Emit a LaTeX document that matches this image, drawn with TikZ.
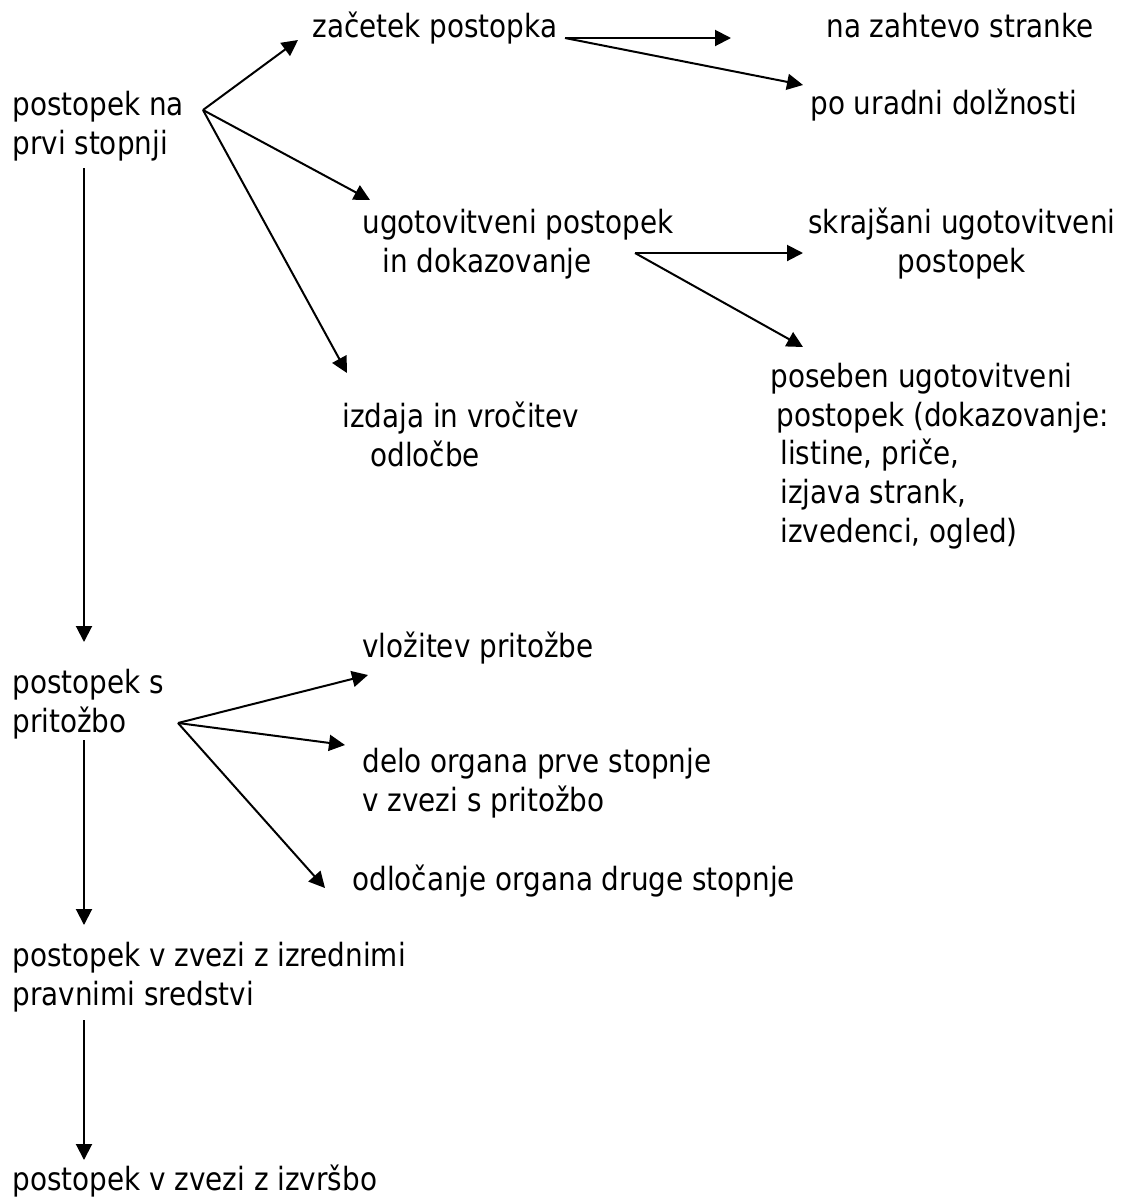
\documentclass[tikz,border=0pt]{standalone}
\usepackage{fontspec}
\setmainfont{DejaVu Sans}[FakeStretch=0.87]
\usetikzlibrary{arrows.meta}
\tikzset{
  txt/.style={anchor=base west,inner sep=0pt,align=left,
    font=\fontsize{16}{19.3}\selectfont},
  arr/.style={-{Triangle[length=8pt,width=8pt]},line width=1pt}
}

\begin{document}
\begin{tikzpicture}[x=0.5pt,y=-0.5pt]
        \useasboundingbox (0,0) rectangle (1125,1200);
        % texts (anchored at the baseline of their last line)
        \node[txt] (prva) at (12,154) {postopek na\\prvi stopnji};
        \node[txt] (zacetek) at (312,37) {začetek postopka};
        \node[txt] (zahteva) at (826,37) {na zahtevo stranke};
        \node[txt] (uradna) at (810,114) {po uradni dolžnosti};
        \node[txt] (ugot) at (362,272) {ugotovitveni postopek\\\hspace*{10pt}in dokazovanje};
        \node[txt,align=center] (skraj) at (808,272) {skrajšani ugotovitveni\\postopek};
        \node[txt] (poseben) at (770,542) {poseben ugotovitveni\\\hspace*{3pt}postopek (dokazovanje:\\\hspace*{5pt}listine, priče,\\\hspace*{5pt}izjava strank,\\\hspace*{5pt}izvedenci, ogled)};
        \node[txt] (izdaja) at (342,466) {izdaja in vročitev\\\hspace*{14pt}odločbe};
        \node[txt] (vlozitev) at (362,657) {vložitev pritožbe};
        \node[txt] (pritozba) at (12,732) {postopek s\\pritožbo};
        \node[txt] (delo) at (362,811) {delo organa prve stopnje\\v zvezi s pritožbo};
        \node[txt] (odlocanje) at (352,890) {odločanje organa druge stopnje};
        \node[txt] (izredna) at (12,1005) {postopek v zvezi z izrednimi\\pravnimi sredstvi};
        \node[txt] (izvrsba) at (12,1190) {postopek v zvezi z izvršbo};
        % branch points
        \coordinate (h1) at (203,110);
        \coordinate (h2) at (565,38);
        \coordinate (h3) at (635,253);
        \coordinate (h4) at (178,723);
        \coordinate (z1) at (298,40);
        \coordinate (u1) at (370,200);
        \coordinate (i1) at (347,373);
        \coordinate (z2) at (731,38);
        \coordinate (u2) at (803,85);
        \coordinate (s3) at (803,253);
        \coordinate (p3) at (803,347);
        \coordinate (v4) at (368,675);
        \coordinate (d4) at (345,745);
        \coordinate (o4) at (325,888);
        \coordinate (a1) at (84,168);
        \coordinate (b1) at (84,642);
        \coordinate (a2) at (84,740);
        \coordinate (b2) at (84,925);
        \coordinate (a3) at (84,1020);
        \coordinate (b3) at (84,1160);
        % arrows
        \draw[arr] (h1) -- (z1);
        \draw[arr] (h1) -- (u1);
        \draw[arr] (h1) -- (i1);
        \draw[arr] (h2) -- (z2);
        \draw[arr] (h2) -- (u2);
        \draw[arr] (h3) -- (s3);
        \draw[arr] (h3) -- (p3);
        \draw[arr] (h4) -- (v4);
        \draw[arr] (h4) -- (d4);
        \draw[arr] (h4) -- (o4);
        \draw[arr] (a1) -- (b1);
        \draw[arr] (a2) -- (b2);
        \draw[arr] (a3) -- (b3);
      \end{tikzpicture}
\end{document}
